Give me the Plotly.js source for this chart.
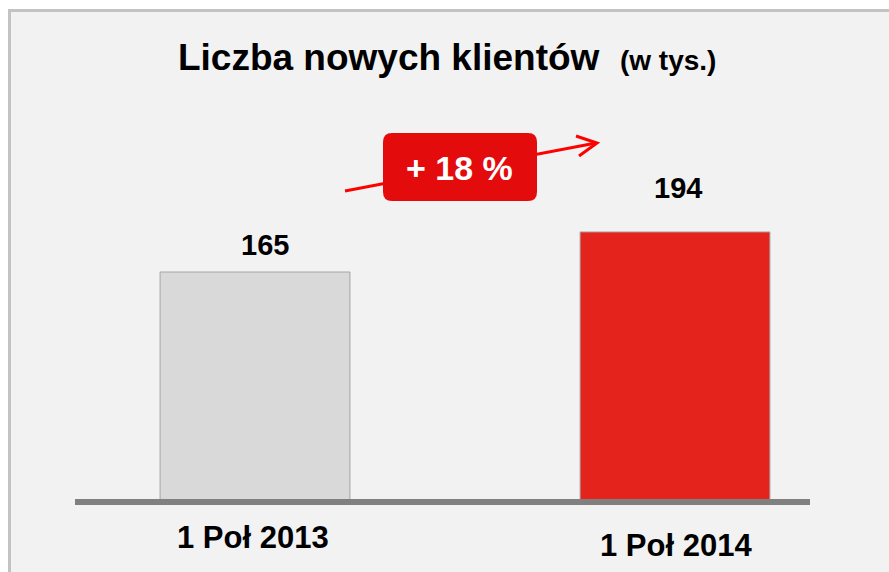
<!DOCTYPE html>
<html>
<head>
<meta charset="utf-8">
<script src="https://cdn.plot.ly/plotly-3.0.1.min.js"></script>
<style>html,body{margin:0;padding:0;background:#fff;}#chart{width:889px;height:572px;}</style>
</head>
<body>
<div id="chart"></div>
<script>
// ---- data ----
const categories = ['1 Poł 2013', '1 Poł 2014'];
const values = [165, 194];
const valueLabels = ['165', '194'];
const growthLabel = '+ 18 %';
const titleMain = 'Liczba nowych klientów';
const titleUnit = '(w tys.)';

// ---- styling / layout helpers ----
const W = 889, H = 572;
const M = {l: 75, r: 79, t: 10, b: 72};
const PW = W - M.l - M.r, PH = H - M.t - M.b;
const px = x => (x - M.l) / PW;      // pixel -> paper x
const py = y => (M.t + PH - y) / PH; // pixel -> paper y
const barColors = ['#d9d9d9', '#e3231c'];
const catShift = [0, -8];
const valShift = [{x: 10, y: 27}, {x: 3, y: 44}];
const font = 'Liberation Sans, Arial, sans-serif';

function roundRect(x0, y0, x1, y1, r) {
  const rx = r / PW, ry = r / PH;
  const a = px(x0), b = px(x1), top = py(y0), bot = py(y1);
  return `M${a + rx},${top} L${b - rx},${top} Q${b},${top} ${b},${top - ry} ` +
         `L${b},${bot + ry} Q${b},${bot} ${b - rx},${bot} L${a + rx},${bot} ` +
         `Q${a},${bot} ${a},${bot + ry} L${a},${top - ry} Q${a},${top} ${a + rx},${top} Z`;
}

const trace = {
  type: 'bar',
  x: categories,
  y: values,
  width: 0.452,
  marker: {color: barColors, line: {color: '#a6a6a6', width: 1}},
  hoverinfo: 'skip'
};

const annotations = [];
categories.forEach((c, i) => {
  annotations.push({
    x: c, y: values[i], xref: 'x', yref: 'y', text: '<b>' + valueLabels[i] + '</b>',
    showarrow: false, yanchor: 'middle', xanchor: 'center',
    xshift: valShift[i].x, yshift: valShift[i].y,
    font: {family: font, size: 29, color: '#000'}
  });
  annotations.push({
    x: c, y: 0, xref: 'x', yref: 'y', text: '<b>' + c + '</b>',
    showarrow: false, yanchor: 'middle', xanchor: 'center',
    yshift: -37 + catShift[i], xshift: i === 0 ? -2 : 1,
    font: {family: font, size: 31, color: '#000'}
  });
});
annotations.push({
  xref: 'paper', yref: 'paper', x: px(459), y: py(168), text: '<b>' + growthLabel + '</b>',
  showarrow: false, xanchor: 'center', yanchor: 'middle',
  font: {family: font, size: 34, color: '#ffffff'}
});

const shapes = [
  // panel background with border
  {type: 'rect', xref: 'paper', yref: 'paper', layer: 'below',
   x0: px(9.5), x1: px(900), y0: py(590), y1: py(10.5),
   fillcolor: '#f2f2f2', line: {color: '#c3c3c3', width: 3}},
  // baseline
  {type: 'line', xref: 'paper', yref: 'paper', layer: 'above', x0: 0, x1: 1, y0: py(502), y1: py(502),
   line: {color: '#808080', width: 6}},
  // growth arrow
  {type: 'line', xref: 'paper', yref: 'paper', x0: px(345), y0: py(191), x1: px(596), y1: py(143),
   line: {color: '#ff0000', width: 3}},
  {type: 'path', xref: 'paper', yref: 'paper',
   path: `M${px(576)},${py(136)} L${px(597)},${py(143)} L${px(579)},${py(156)}`,
   line: {color: '#ff0000', width: 3}},
  // growth box
  {type: 'path', xref: 'paper', yref: 'paper', path: roundRect(383, 133, 537, 201, 9),
   fillcolor: '#e30b0b', line: {width: 0}}
];

const layout = {
  width: W, height: H,
  margin: M,
  paper_bgcolor: '#ffffff',
  plot_bgcolor: 'rgba(0,0,0,0)',
  showlegend: false,
  title: {
    text: '<b>' + titleMain + '</b>  <b><span style="font-size:28px">' + titleUnit + '</span></b>',
    xref: 'container', yref: 'container', x: 0.503, y: 1 - 57 / H,
    xanchor: 'center', yanchor: 'middle',
    font: {family: font, size: 37, color: '#000'}
  },
  xaxis: {type: 'category', range: [-0.4286, 1.3214], showticklabels: false, showgrid: false,
          zeroline: false, showline: false, fixedrange: true},
  yaxis: {range: [0, PH / 1.3818], showticklabels: false, showgrid: false,
          zeroline: false, showline: false, fixedrange: true},
  annotations: annotations,
  shapes: shapes
};

Plotly.newPlot('chart', [trace], layout, {displayModeBar: false, staticPlot: true});
</script>
</body>
</html>
